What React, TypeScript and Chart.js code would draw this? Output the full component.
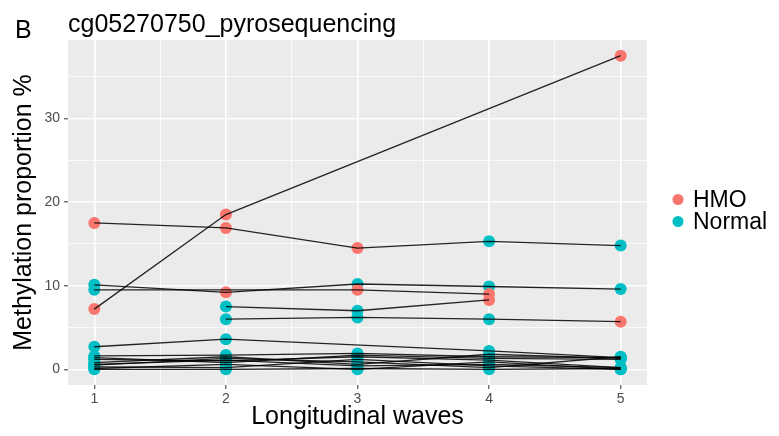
import React, { useEffect, useRef } from 'react';
import { Chart, registerables } from 'chart.js';

Chart.register(...registerables);

// ---- data ----
const waves = [1, 2, 3, 4, 5];
const groupNames = ['HMO', 'Normal'];
const groupCodes = ['H', 'N'];
const groupColors = ['#F8766D', '#00BFC4'];

const panelLetter = 'B';
const chartTitle = 'cg05270750_pyrosequencing';
const xTitle = 'Longitudinal waves';
const yTitle = 'Methylation proportion %';

const xTickValues = [1, 1.5, 2, 2.5, 3, 3.5, 4, 4.5, 5];
const xLabelValues = [1, 2, 3, 4, 5];
const yTickValues = [0, 5, 10, 15, 20, 25, 30, 35];
const yLabelValues = [0, 10, 20, 30];

// per-subject methylation values by wave (null = not measured)
const s01 = [17.5, 16.9, 14.5, 15.3, 14.8];
const s02 = [7.2, 18.5, null, null, 37.5];
const s03 = [10.1, 9.2, 10.2, 9.9, 9.6];
const s04 = [9.5, null, 9.5, 9.0, null];
const s05 = [null, 7.5, 7.0, 8.3, null];
const s06 = [null, 6.0, 6.2, 6.0, 5.7];
const s07 = [2.7, 3.6, null, 2.2, 1.4];
const s08 = [1.6, 1.7, 1.9, 1.5, 1.4];
const s09 = [1.2, 1.0, 1.5, 1.1, 0.2];
const s10 = [0.8, 1.5, 0.6, 1.8, 1.3];
const s11 = [0.3, 0.2, 1.2, 0.4, 0.0];
const s12 = [0.0, 0.0, 0.1, 0.0, 0.1];
const s13 = [0.5, 1.3, 0.9, 0.2, 1.5];
const s14 = [0.1, 0.6, 0.0, 0.9, 0.0];
const s15 = [1.4, 0.8, 1.7, 1.3, 1.2];
const s16 = [0.6, 1.1, 0.4, 0.6, 0.2];

// per-subject group status by wave (H = HMO, N = Normal, - = missing)
const g01 = 'HHHNN';
const g02 = 'HH--H';
const g03 = 'NHNNN';
const g04 = 'N-HH-';
const g05 = '-NNH-';
const g06 = '-NNNH';
const g07 = 'NN-NN';
const g08 = 'NNNNN';
const g09 = 'NNNNN';
const g10 = 'NNNNN';
const g11 = 'NNNNN';
const g12 = 'NNNNN';
const g13 = 'NNNNN';
const g14 = 'NNNNN';
const g15 = 'NNNNN';
const g16 = 'NNNNN';

const subjectValues = [s01, s02, s03, s04, s05, s06, s07, s08, s09, s10, s11, s12, s13, s14, s15, s16];
const subjectGroups = [g01, g02, g03, g04, g05, g06, g07, g08, g09, g10, g11, g12, g13, g14, g15, g16];

const FONT = "'Liberation Sans', Arial, Helvetica, sans-serif";
const near = (a: number, b: number) => Math.abs(a - b) < 1e-6;
const isIn = (v: number, arr: number[]) => arr.some((a) => near(a, v));

const decorPlugin = {
  id: 'decor',
  beforeDraw(chart: any) {
    const { ctx, chartArea } = chart;
    ctx.save();
    ctx.fillStyle = '#EBEBEB';
    ctx.fillRect(chartArea.left, chartArea.top, chartArea.right - chartArea.left, chartArea.bottom - chartArea.top);
    ctx.restore();
  },
  afterDraw(chart: any) {
    const { ctx, chartArea } = chart;
    ctx.save();
    ctx.fillStyle = '#000000';
    ctx.textBaseline = 'alphabetic';
    ctx.textAlign = 'left';
    ctx.font = `25px ${FONT}`;
    ctx.fillText(panelLetter, 15, 38);
    ctx.fillText(chartTitle, chartArea.left, 32);

    // legend
    const lx = chartArea.right + 31;
    const cy = (chartArea.top + chartArea.bottom) / 2;
    const step = 22;
    ctx.font = `23px ${FONT}`;
    ctx.textBaseline = 'middle';
    groupNames.forEach((name, i) => {
      const y = cy - step / 2 + i * step - 2;
      ctx.beginPath();
      ctx.fillStyle = groupColors[i];
      ctx.arc(lx, y, 5.5, 0, Math.PI * 2);
      ctx.fill();
      ctx.fillStyle = '#000000';
      ctx.fillText(name, lx + 15, y + 1);
    });
    ctx.restore();
  },
};

export default function App() {
  const canvasRef = useRef<HTMLCanvasElement | null>(null);

  useEffect(() => {
    if (!canvasRef.current) return;
    Chart.defaults.font.family = FONT;

    const lineDatasets = subjectValues.map((vals) => ({
      type: 'scatter' as const,
      label: '',
      showLine: true,
      data: vals
        .map((v, i) => (v === null ? null : { x: waves[i], y: v }))
        .filter((p) => p !== null),
      borderColor: 'rgba(0,0,0,0.85)',
      borderWidth: 1.3,
      pointRadius: 0,
      pointHoverRadius: 0,
      order: 0,
    }));

    const pointDatasets = groupCodes.map((code, gi) => ({
      type: 'scatter' as const,
      label: groupNames[gi],
      showLine: false,
      data: subjectValues.flatMap((vals, si) =>
        vals
          .map((v, i) => (v !== null && subjectGroups[si][i] === code ? { x: waves[i], y: v } : null))
          .filter((p) => p !== null)
      ),
      backgroundColor: groupColors[gi],
      borderWidth: 0,
      pointRadius: 6,
      pointHoverRadius: 6,
      order: 1,
    }));

    const chart = new Chart(canvasRef.current, {
      type: 'scatter',
      data: { datasets: [...lineDatasets, ...pointDatasets] as any },
      plugins: [decorPlugin],
      options: {
        animation: false,
        responsive: false,
        layout: { padding: { top: 40, right: 132, bottom: 0, left: 0 } },
        plugins: {
          legend: { display: false },
          tooltip: { enabled: false },
          title: { display: false },
        },
        scales: {
          x: {
            type: 'linear',
            min: 0.8,
            max: 5.2,
            afterBuildTicks: (s: any) => {
              s.ticks = xTickValues.map((v) => ({ value: v }));
            },
            afterFit: (s: any) => {
              s.height = 51;
            },
            border: { display: false },
            grid: {
              color: '#FFFFFF',
              lineWidth: (c: any) => (isIn(c.tick.value, xLabelValues) ? 1.6 : 0.8),
              tickColor: (c: any) => (isIn(c.tick.value, xLabelValues) ? '#333333' : 'rgba(0,0,0,0)'),
              tickLength: 4,
              tickWidth: 1,
            },
            ticks: {
              autoSkip: false,
              maxRotation: 0,
              padding: 2,
              color: '#4D4D4D',
              font: { size: 14 },
              callback: (v: any) => (isIn(Number(v), xLabelValues) ? String(v) : ''),
            },
            title: {
              display: true,
              text: xTitle,
              color: '#000000',
              font: { size: 25 },
              padding: { top: 0, bottom: 4 },
            },
          },
          y: {
            type: 'linear',
            min: -1.875,
            max: 39.375,
            afterBuildTicks: (s: any) => {
              s.ticks = yTickValues.map((v) => ({ value: v }));
            },
            afterFit: (s: any) => {
              s.width = 68;
            },
            border: { display: false },
            grid: {
              color: '#FFFFFF',
              lineWidth: (c: any) => (isIn(c.tick.value, yLabelValues) ? 1.6 : 0.8),
              tickColor: (c: any) => (isIn(c.tick.value, yLabelValues) ? '#333333' : 'rgba(0,0,0,0)'),
              tickLength: 4,
              tickWidth: 1,
            },
            ticks: {
              autoSkip: false,
              padding: 4,
              color: '#4D4D4D',
              font: { size: 14 },
              callback: (v: any) => (isIn(Number(v), yLabelValues) ? String(v) : ''),
            },
            title: {
              display: true,
              text: yTitle,
              color: '#000000',
              font: { size: 25 },
              padding: { top: 9, bottom: 0 },
            },
          },
        },
      },
    });

    return () => chart.destroy();
  }, []);

  return (
    <div style={{ position: 'fixed', left: 0, top: 0, width: 779, height: 436, background: '#FFFFFF' }}>
      <canvas ref={canvasRef} width={779} height={436} style={{ display: 'block', width: 779, height: 436 }} />
    </div>
  );
}
